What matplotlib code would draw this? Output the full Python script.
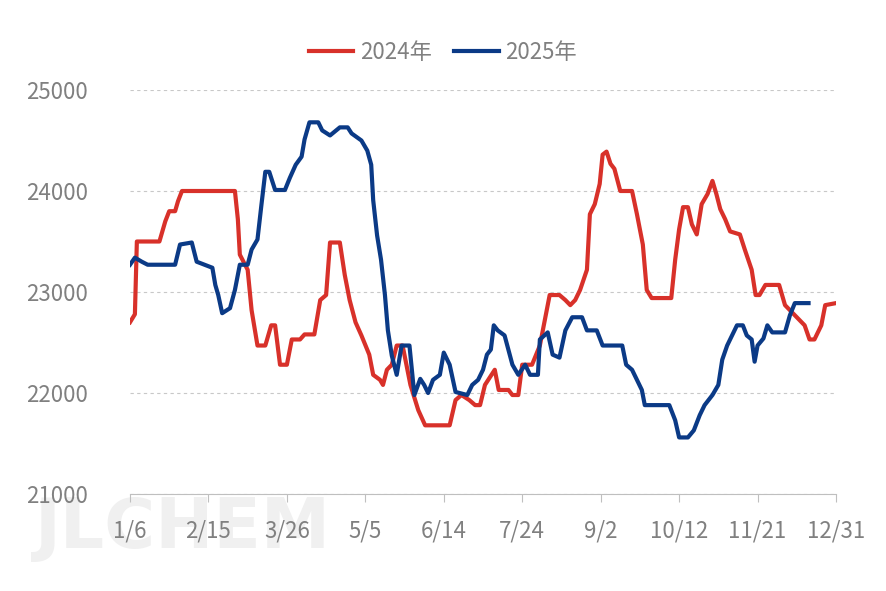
import matplotlib
matplotlib.use("Agg")
import matplotlib.pyplot as plt

tick_labels = ["1/6","2/15","3/26","5/5","6/14","7/24","9/2","10/12","11/21","12/31"]
tick_days = [0,40,80,120,160,200,240,280,320,360]

d24 = [0,2.5,3.5,15,18,20,23,24.5,26.5,53.5,55,56,60,62,65,69,72,74,76.5,80,82.5,86.7,89,94,97,100,102,107,109.5,112,115,118,122,124,127.5,129,131,133.5,136,139,143,147,150.5,163,166,169,173,176,178.5,181,186,188,193,195,198,200,205,209,211.5,214,219,222,224.5,227,229.5,233,234.5,237,239.5,241,243,245,247,250,256,258.5,261.5,263.5,266,276,278,280,282,284.5,286.5,289,291.5,294.5,297,299,301,303.5,306,311,313.5,317,319,321,324,331,334,339,344,346.5,349,352.5,354.5,360]
v24 = [22700,22780,23500,23500,23700,23800,23800,23900,24000,24000,23720,23370,23220,22820,22470,22470,22670,22670,22280,22280,22530,22530,22580,22580,22920,22970,23490,23490,23170,22920,22700,22570,22380,22180,22130,22080,22230,22280,22470,22470,22080,21830,21680,21680,21930,21980,21930,21880,21880,22080,22230,22030,22030,21980,21980,22280,22280,22470,22720,22970,22970,22920,22870,22920,23020,23220,23770,23870,24070,24360,24390,24270,24220,24000,24000,23770,23470,23020,22940,22940,23320,23620,23840,23840,23670,23570,23870,23970,24100,23970,23820,23720,23600,23570,23420,23220,22970,22970,23070,23070,22870,22770,22670,22530,22530,22670,22870,22890]

d25 = [0,2.5,6,9,23,25.5,31.5,34,42,43.5,45,47,51,53.5,56,60,62,65,67,69,71,74,79,81.5,84.5,87.5,89,91.5,96,98,102,107,111,113,118,121,123,124,126,128,130,131.5,133.5,136,138.5,142.5,145,148,150,152,154.5,158,160,163,166,172,174.5,177.5,180,182,184,185.5,187.5,191,195,198,201.5,204,208,209,213,215.5,219,222,225.5,230.5,233,238,241,251,253,256,258.5,261,262.5,275,278,280,284.5,287.5,290.5,293,297,300,302,304.5,307,309.5,312.5,314.5,317,318.5,320,323,325,327.5,334,336.5,339,346]
v25 = [23270,23340,23300,23270,23270,23470,23490,23300,23240,23070,22970,22790,22840,23020,23270,23270,23420,23520,23860,24190,24190,24010,24010,24130,24260,24340,24510,24680,24680,24600,24550,24630,24630,24570,24500,24400,24260,23910,23560,23320,22970,22620,22370,22180,22470,22470,21980,22140,22080,22000,22130,22180,22400,22280,22010,21980,22080,22130,22230,22380,22430,22670,22620,22570,22280,22180,22280,22180,22180,22530,22600,22380,22350,22620,22750,22750,22620,22620,22470,22470,22280,22230,22130,22030,21880,21880,21730,21560,21560,21630,21780,21880,21980,22080,22330,22470,22570,22670,22670,22570,22530,22310,22470,22540,22670,22600,22600,22770,22890,22890]

fig = plt.figure(figsize=(8.86,5.91), dpi=100)
fig.text(35/886, 1-548/591, "JLCHEM", fontsize=50, fontweight="bold", color="#f0f0f0", zorder=-10)
ax = fig.add_axes([130/886, 1-494/591, 706/886, 404/591])
ax.patch.set_alpha(0)
ax.plot(d24, v24, color="#d8312a", lw=3, label="2024年", solid_joinstyle="round")
ax.plot(d25, v25, color="#0b3a86", lw=3, label="2025年", solid_joinstyle="round")
ax.set_xlim(0,360); ax.set_ylim(21000,25000)
ax.set_yticks([21000,22000,23000,24000,25000])
ax.set_xticks(tick_days); ax.set_xticklabels(tick_labels)
ax.grid(axis="y", ls=(0,(3,3)), color="#c8c8c8", lw=0.8)
for s in ["top","right","left"]:
    ax.spines[s].set_visible(False)
ax.spines["bottom"].set_color("#bfbfbf")
ax.tick_params(axis="y", length=0, labelsize=16, labelcolor="#808080", pad=30)
ax.tick_params(axis="x", length=6, color="#bfbfbf", labelsize=16, labelcolor="#808080", pad=12)
leg = fig.legend(loc="upper center", bbox_to_anchor=(0.5, 0.965), ncol=2, frameon=False,
                 prop={"family":["Noto Sans CJK SC","DejaVu Sans"], "size":16},
                 handlelength=2, columnspacing=1.0, handletextpad=0.3)
for t in leg.get_texts(): t.set_color("#808080")
for t in ax.get_xticklabels()+ax.get_yticklabels(): t.set_family(["Noto Sans CJK SC","DejaVu Sans"])
fig.savefig("out.png", dpi=100)
